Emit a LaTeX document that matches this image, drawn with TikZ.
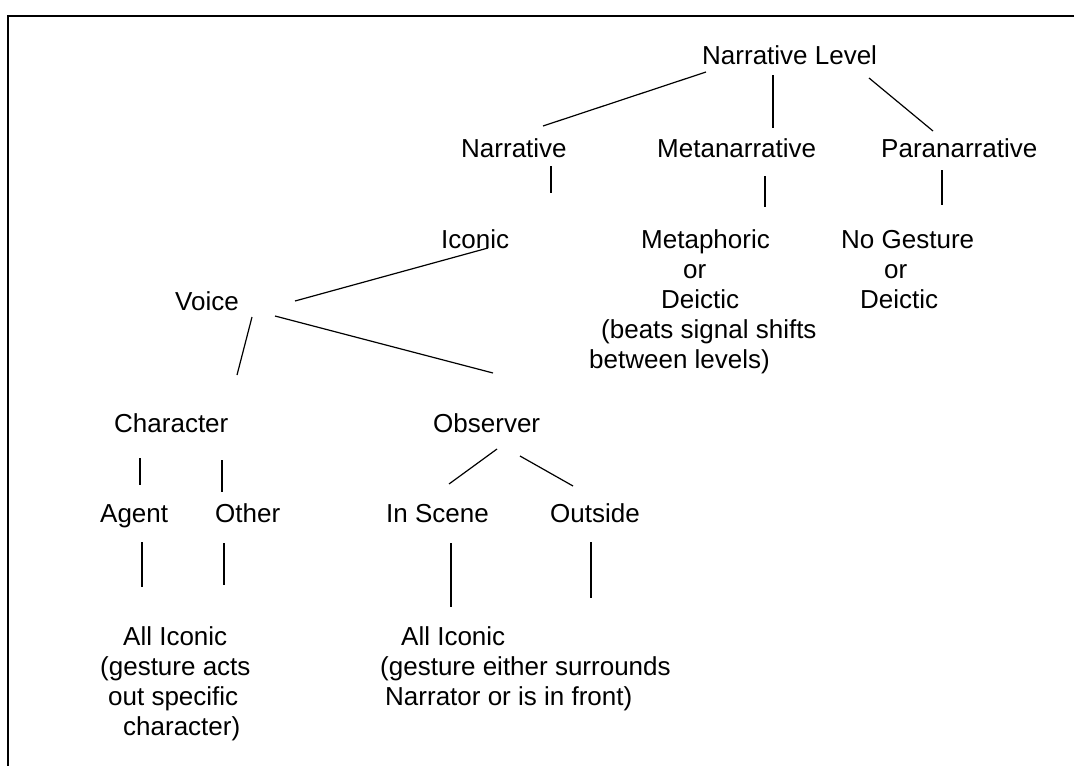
\documentclass[tikz,border=0pt]{standalone}
\usepackage{fontspec}
\setmainfont{Liberation Sans}
\begin{document}
\begin{tikzpicture}[x=1pt,y=-1pt,
  lbl/.style={anchor=base west,inner sep=0pt,font=\fontsize{26}{30}\selectfont},
  link/.style={line width=1.2pt},
  frame/.style={line width=2.6pt}]
\useasboundingbox (0,0) rectangle (1078,766);
% frame (top and left edges visible)
\coordinate (fr-tl) at (8,16);
\coordinate (fr-tr) at (1074,16);
\coordinate (fr-bl) at (8,766);
\draw[frame] (fr-tr) -- (fr-tl) -- (fr-bl);
% nodes
\node[lbl] (NL) at (702,64) {Narrative Level};
\node[lbl] (N) at (461,157) {Narrative};
\node[lbl] (M) at (657,157) {Metanarrative};
\node[lbl] (P) at (881,157) {Paranarrative};
\node[lbl] (IC) at (441,248) {Iconic};
\node[lbl] (meta1) at (641,248) {Metaphoric};
\node[lbl] (meta2) at (683,278) {or};
\node[lbl] (meta3) at (661,308) {Deictic};
\node[lbl] (meta4) at (601,338) {(beats signal shifts};
\node[lbl] (meta5) at (589,368) {between levels)};
\node[lbl] (ng1) at (841,248) {No Gesture};
\node[lbl] (ng2) at (884,278) {or};
\node[lbl] (ng3) at (860,308) {Deictic};
\node[lbl] (V) at (175,310) {Voice};
\node[lbl] (Ch) at (114,432) {Character};
\node[lbl] (Ob) at (433,432) {Observer};
\node[lbl] (Ag) at (100,522) {Agent};
\node[lbl] (Ot) at (215,522) {Other};
\node[lbl] (IS) at (386,522) {In Scene};
\node[lbl] (Out) at (550,522) {Outside};
\node[lbl] (bl1) at (123,645) {All Iconic};
\node[lbl] (bl2) at (100,675) {(gesture acts};
\node[lbl] (bl3) at (108,705) {out specific};
\node[lbl] (bl4) at (123,735) {character)};
\node[lbl] (bm1) at (401,645) {All Iconic};
\node[lbl] (bm2) at (380,675) {(gesture either surrounds};
\node[lbl] (bm3) at (385,705) {Narrator or is in front)};
\coordinate (outEnd) at (591,598);
% connectors
\draw[link] ([shift={(4,8)}]NL.base west) -- ([shift={(82,-31)}]N.base west);
\draw[link] ([shift={(71,11)}]NL.base west) -- ([shift={(116,-29)}]M.base west);
\draw[link] ([shift={(167,14)}]NL.base west) -- ([shift={(52,-26)}]P.base west);
\draw[link] ([shift={(90,9)}]N.base west) -- ([shift={(110,-55)}]IC.base west);
\draw[link] ([shift={(108,19)}]M.base west) -- ([shift={(124,-41)}]meta1.base west);
\draw[link] ([shift={(61,13)}]P.base west) -- ([shift={(101,-43)}]ng1.base west);
\draw[link] ([shift={(47,0)}]IC.base west) -- ([shift={(120,-9)}]V.base west);
\draw[link] ([shift={(77,7)}]V.base west) -- ([shift={(123,-57)}]Ch.base west);
\draw[link] ([shift={(100,6)}]V.base west) -- ([shift={(60,-59)}]Ob.base west);
\draw[link] ([shift={(26,26)}]Ch.base west) -- ([shift={(40,-37)}]Ag.base west);
\draw[link] ([shift={(108,28)}]Ch.base west) -- ([shift={(7,-30)}]Ot.base west);
\draw[link] ([shift={(42,20)}]Ag.base west) -- ([shift={(19,-58)}]bl1.base west);
\draw[link] ([shift={(9,21)}]Ot.base west) -- ([shift={(101,-60)}]bl1.base west);
\draw[link] ([shift={(64,17)}]Ob.base west) -- ([shift={(63,-38)}]IS.base west);
\draw[link] ([shift={(87,24)}]Ob.base west) -- ([shift={(23,-36)}]Out.base west);
\draw[link] ([shift={(65,21)}]IS.base west) -- ([shift={(50,-38)}]bm1.base west);
\draw[link] ([shift={(41,20)}]Out.base west) -- (outEnd);
\end{tikzpicture}
\end{document}
